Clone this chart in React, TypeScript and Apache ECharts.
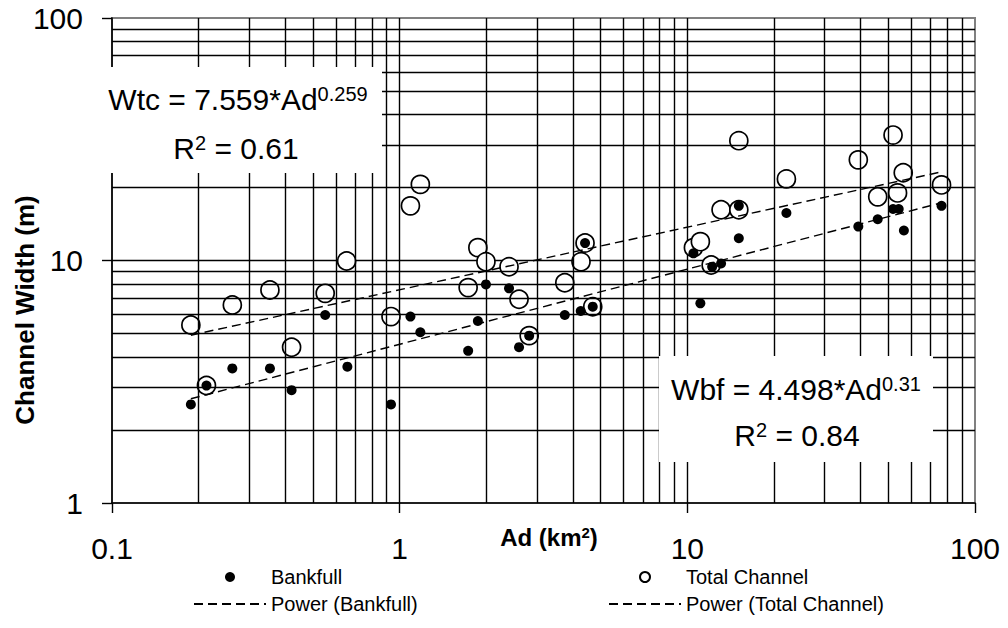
import React, { useEffect, useRef } from 'react';
import * as echarts from 'echarts';

// Drainage area (km2) and widths (m)
const bankfullArea = [0.188, 0.213, 0.262, 0.354, 0.421, 0.551, 0.658, 0.933, 1.09, 1.18, 1.73, 1.87, 1.995, 2.4, 2.6, 2.82, 3.75, 4.26, 4.69, 4.41, 10.5, 11.1, 12.2, 13.1, 15.1, 15.1, 22.1, 39.3, 45.9, 51.9, 54.3, 56.6, 76.5];
const bankfullWidth = [2.55, 3.05, 3.59, 3.59, 2.92, 5.96, 3.65, 2.55, 5.87, 5.06, 4.24, 5.63, 7.97, 7.68, 4.39, 4.9, 5.96, 6.19, 6.45, 11.8, 10.7, 6.66, 9.43, 9.73, 16.8, 12.35, 15.7, 13.8, 14.8, 16.3, 16.3, 13.3, 16.8];
const totalArea = [0.188, 0.213, 0.262, 0.354, 0.421, 0.551, 0.654, 0.933, 1.09, 1.18, 1.73, 1.87, 1.995, 2.4, 2.6, 2.82, 3.75, 4.27, 4.41, 4.69, 10.5, 11.1, 12.1, 13.1, 15.1, 15.1, 22.1, 39.3, 45.9, 51.9, 53.8, 56.3, 76.5];
const totalWidth = [5.42, 3.05, 6.55, 7.56, 4.39, 7.32, 9.95, 5.87, 16.8, 20.6, 7.73, 11.3, 9.89, 9.43, 6.92, 4.9, 8.1, 9.89, 11.8, 6.45, 11.3, 11.96, 9.58, 16.2, 16.2, 31.2, 21.7, 26.0, 18.3, 32.9, 19.0, 23.0, 20.5];

// Power trend lines (end points)
const trendBankfullArea = [0.188, 76.5];
const trendBankfullWidth = [2.69, 17.3];
const trendTotalArea = [0.188, 76.5];
const trendTotalWidth = [4.92, 23.2];

// Tick labels and minor grid structure
const xTickLabels = ['0.1', '1', '10', '100'];
const yTickLabels = ['1', '10', '100'];
const xDecades = [0.1, 1, 10];
const yDecades = [1, 10];
const minorMultipliers = [2, 3, 4, 5, 6, 7, 8, 9];

const seriesNames = ['Bankfull', 'Total Channel', 'Power (Bankfull)', 'Power (Total Channel)'];

const FONT = '"Liberation Sans", Arial, Helvetica, sans-serif';

const zip = (a: number[], b: number[]) => a.map((v, i) => [v, b[i]]);

export default function App() {
  const ref = useRef<HTMLDivElement>(null);

  useEffect(() => {
    if (!ref.current) return;
    const chart = echarts.init(ref.current, undefined, { renderer: 'svg' });

    const minorX: any[] = [];
    xDecades.forEach((d) => minorMultipliers.forEach((m) => minorX.push({ xAxis: d * m })));
    const minorY: any[] = [];
    yDecades.forEach((d) => minorMultipliers.forEach((m) => minorY.push({ yAxis: d * m })));

    const gridLine = { color: '#000', width: 1.4, type: 'solid' as const };

    const legendCommon = {
      orient: 'vertical',
      top: 567,
      itemWidth: 72,
      itemHeight: 10,
      itemGap: 7,
      padding: 0,
      selectedMode: false,
      textStyle: { fontSize: 20, lineHeight: 20, color: '#000', fontFamily: FONT },
    };

    const option: any = {
      animation: false,
      grid: {
        left: 112,
        right: 33,
        top: 18,
        bottom: 125,
        show: true,
        borderColor: '#808080',
        borderWidth: 2,
        backgroundColor: 'transparent',
      },
      xAxis: {
        type: 'log',
        logBase: 10,
        min: 0.1,
        max: 100,
        axisLine: { show: true, onZero: false, lineStyle: { color: '#000', width: 1.6 } },
        axisTick: { show: true, inside: false, length: 10, lineStyle: { color: '#000', width: 1.4 } },
        axisLabel: {
          fontSize: 30,
          color: '#000',
          fontFamily: FONT,
          margin: 30,
          formatter: (v: number) => xTickLabels[Math.round(Math.log10(v)) + 1] ?? '',
        },
        splitLine: { show: true, showMaxLine: false, showMinLine: false, lineStyle: gridLine },
        minorTick: { show: false },
      },
      yAxis: {
        type: 'log',
        logBase: 10,
        min: 1,
        max: 100,
        axisLine: { show: true, onZero: false, lineStyle: { color: '#000', width: 1.6 } },
        axisTick: { show: true, inside: false, length: 10, lineStyle: { color: '#000', width: 1.4 } },
        axisLabel: {
          fontSize: 30,
          color: '#000',
          fontFamily: FONT,
          margin: 29,
          formatter: (v: number) => yTickLabels[Math.round(Math.log10(v))] ?? '',
        },
        splitLine: { show: true, showMaxLine: false, showMinLine: false, lineStyle: gridLine },
        minorTick: { show: false },
      },
      legend: [
        {
          ...legendCommon,
          left: 193,
          data: [seriesNames[0], { name: seriesNames[2], itemStyle: { opacity: 0 } }],
        },
        {
          ...legendCommon,
          left: 608,
          data: [seriesNames[1], { name: seriesNames[3], itemStyle: { opacity: 0 } }],
        },
      ],
      series: [
        {
          name: 'minor-grid',
          type: 'scatter',
          data: [],
          z: 1,
          silent: true,
          markLine: {
            silent: true,
            symbol: ['none', 'none'],
            label: { show: false },
            lineStyle: gridLine,
            emphasis: { disabled: true },
            data: [...minorX, ...minorY],
          },
        },
        {
          name: seriesNames[1],
          type: 'scatter',
          z: 3,
          symbol: 'circle',
          symbolSize: 18,
          itemStyle: { color: '#fff', borderColor: '#000', borderWidth: 1.7, opacity: 1 },
          data: zip(totalArea, totalWidth),
        },
        {
          name: seriesNames[0],
          type: 'scatter',
          z: 4,
          symbol: 'circle',
          symbolSize: 10,
          itemStyle: { color: '#000', opacity: 1 },
          data: zip(bankfullArea, bankfullWidth),
        },
        {
          name: seriesNames[2],
          type: 'line',
          z: 5,
          showSymbol: false,
          symbol: 'none',
          lineStyle: { color: '#000', width: 1.4, type: [9, 5] },
          itemStyle: { color: '#000' },
          data: zip(trendBankfullArea, trendBankfullWidth),
        },
        {
          name: seriesNames[3],
          type: 'line',
          z: 5,
          showSymbol: false,
          symbol: 'none',
          lineStyle: { color: '#000', width: 1.4, type: [9, 5] },
          itemStyle: { color: '#000' },
          data: zip(trendTotalArea, trendTotalWidth),
        },
      ],
      graphic: [
        {
          type: 'rect',
          z: 100,
          shape: { x: 98, y: 67, width: 284, height: 106 },
          style: { fill: '#fff' },
        },
        {
          type: 'text',
          z: 101,
          x: 238,
          y: 99,
          style: {
            text: '{a|Wtc = 7.559*Ad}{s|0.259}',
            align: 'center',
            verticalAlign: 'middle',
            rich: {
              a: { fontSize: 30, fontFamily: FONT, fill: '#000', lineHeight: 30 },
              s: { fontSize: 20, fontFamily: FONT, fill: '#000', lineHeight: 14, verticalAlign: 'top' },
            },
          },
        },
        {
          type: 'text',
          z: 101,
          x: 236,
          y: 148,
          style: {
            text: '{a|R}{s|2}{a| = 0.61}',
            align: 'center',
            verticalAlign: 'middle',
            rich: {
              a: { fontSize: 30, fontFamily: FONT, fill: '#000', lineHeight: 30 },
              s: { fontSize: 20, fontFamily: FONT, fill: '#000', lineHeight: 14, verticalAlign: 'top' },
            },
          },
        },
        {
          type: 'rect',
          z: 100,
          shape: { x: 659, y: 356, width: 274, height: 106 },
          style: { fill: '#fff' },
        },
        {
          type: 'text',
          z: 101,
          x: 796,
          y: 389,
          style: {
            text: '{a|Wbf = 4.498*Ad}{s|0.31}',
            align: 'center',
            verticalAlign: 'middle',
            rich: {
              a: { fontSize: 30, fontFamily: FONT, fill: '#000', lineHeight: 30 },
              s: { fontSize: 20, fontFamily: FONT, fill: '#000', lineHeight: 14, verticalAlign: 'top' },
            },
          },
        },
        {
          type: 'text',
          z: 101,
          x: 797,
          y: 435,
          style: {
            text: '{a|R}{s|2}{a| = 0.84}',
            align: 'center',
            verticalAlign: 'middle',
            rich: {
              a: { fontSize: 30, fontFamily: FONT, fill: '#000', lineHeight: 30 },
              s: { fontSize: 20, fontFamily: FONT, fill: '#000', lineHeight: 14, verticalAlign: 'top' },
            },
          },
        },
        {
          type: 'text',
          z: 101,
          x: 549,
          y: 537,
          style: {
            text: '{b|Ad (km}{s|2}{b|)}',
            align: 'center',
            verticalAlign: 'middle',
            rich: {
              b: { fontSize: 24, fontWeight: 'bold', fontFamily: FONT, fill: '#000', lineHeight: 24 },
              s: { fontSize: 15, fontWeight: 'bold', fontFamily: FONT, fill: '#000', lineHeight: 12, verticalAlign: 'top' },
            },
          },
        },
        {
          type: 'text',
          z: 101,
          x: 25,
          y: 310,
          rotation: Math.PI / 2,
          style: {
            text: 'Channel Width (m)',
            align: 'center',
            verticalAlign: 'middle',
            fontSize: 26,
            fontWeight: 'bold',
            fontFamily: FONT,
            fill: '#000',
          },
        },
      ],
    };

    chart.setOption(option);
    return () => chart.dispose();
  }, []);

  return (
    <div
      ref={ref}
      style={{ position: 'absolute', left: 0, top: 0, width: 1008, height: 628, background: '#fff' }}
    />
  );
}
